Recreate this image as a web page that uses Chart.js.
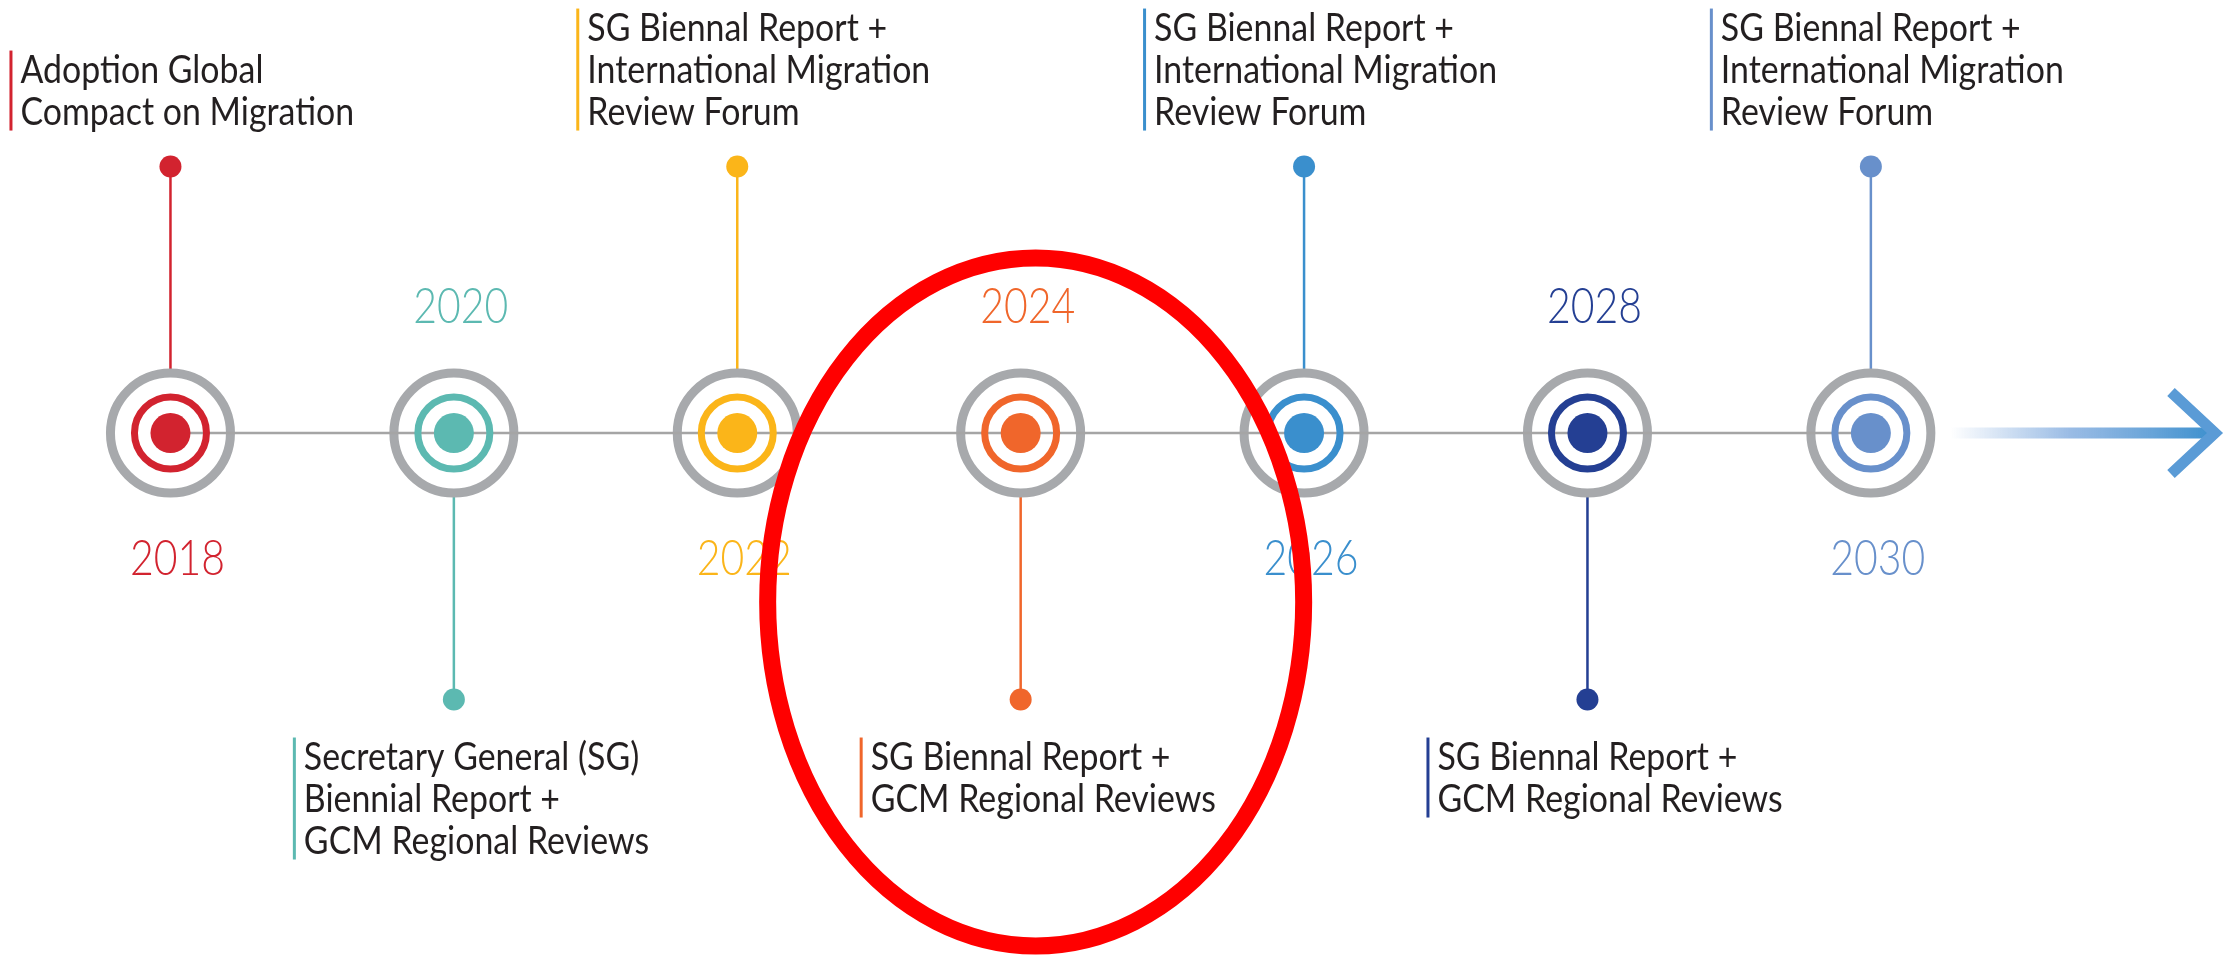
<!DOCTYPE html>
<html>
<head>
<meta charset="utf-8">
<script src="https://cdn.jsdelivr.net/npm/chart.js@4"></script>
<style>
  html, body { margin: 0; padding: 0; background: #fff; }
  #timeline { display: block; }
</style>
</head>
<body>
<canvas id="timeline" width="2239" height="970"></canvas>
<script>
// timeline data
const years = [2018, 2020, 2022, 2024, 2026, 2028, 2030];
const eventSide = [1, -1, 1, -1, 1, -1, 1]; // 1 = event above the line, -1 = below
const eventText = [
  ['Adoption Global', 'Compact on Migration'],
  ['Secretary General (SG)', 'Biennial Report +', 'GCM Regional Reviews'],
  ['SG Biennal Report +', 'International Migration', 'Review Forum'],
  ['SG Biennal Report +', 'GCM Regional Reviews'],
  ['SG Biennal Report +', 'International Migration', 'Review Forum'],
  ['SG Biennal Report +', 'GCM Regional Reviews'],
  ['SG Biennal Report +', 'International Migration', 'Review Forum']
];
const yearColors = ['#d2232f', '#5cb9b1', '#fbb519', '#f0662b', '#3a8fcd', '#243f93', '#6890cb'];
const highlightYear = 2024;

const RING_GREY = '#a7a9ac';
const LINE_GREY = '#a5a5a5';
const TEXT_DARK = '#231f20';

// year labels, event text blocks, arrow and the red highlight ellipse
const timelineDecor = {
  id: 'timelineDecor',
  beforeDatasetsDraw(chart) {
    const { ctx, chartArea, scales: { x, y } } = chart;
    const y0 = y.getPixelForValue(0);
    const start = x.getPixelForValue(years[years.length - 1]) + 80;
    const tip = chartArea.right - 24;
    ctx.save();
    const grad = ctx.createLinearGradient(start, 0, tip, 0);
    grad.addColorStop(0, 'rgba(120,165,220,0)');
    grad.addColorStop(0.45, 'rgba(120,165,220,0.75)');
    grad.addColorStop(1, '#3a8fcd');
    ctx.strokeStyle = grad;
    ctx.lineWidth = 11;
    ctx.beginPath();
    ctx.moveTo(start, y0);
    ctx.lineTo(tip - 4, y0);
    ctx.stroke();
    ctx.strokeStyle = '#5a9bd6';
    ctx.lineJoin = 'miter';
    ctx.beginPath();
    ctx.moveTo(tip - 44, y0 - 41);
    ctx.lineTo(tip, y0);
    ctx.lineTo(tip - 44, y0 + 41);
    ctx.stroke();
    ctx.restore();
  },
  afterDatasetsDraw(chart) {
    const { ctx, scales: { x, y } } = chart;
    const y0 = y.getPixelForValue(0);
    ctx.save();
    ctx.textAlign = 'left';
    ctx.textBaseline = 'alphabetic';

    // years sit on the side opposite the event
    ctx.font = '300 50px Lato';
    const yearSx = 95 / ctx.measureText('2020').width;
    years.forEach((yr, i) => {
      const px = x.getPixelForValue(yr) + 7;
      const py = eventSide[i] > 0 ? y0 + 142 : y0 - 110;
      ctx.save();
      ctx.translate(px, py);
      ctx.scale(yearSx, 1);
      ctx.fillStyle = yearColors[i];
      ctx.textAlign = 'center';
      ctx.fillText(String(yr), 0, 0);
      ctx.restore();
    });

    // event descriptions with a coloured bar on the left
    ctx.font = '38px Lato';
    const textSx = 343 / ctx.measureText('International Migration').width;
    const lineH = 42;
    years.forEach((yr, i) => {
      const lines = eventText[i];
      const left = x.getPixelForValue(yr) - 161;
      const dotY = y.getPixelForValue(eventSide[i]);
      const first = eventSide[i] > 0 ? dotY - 42 - (lines.length - 1) * lineH : dotY + 70;
      const last = first + (lines.length - 1) * lineH;
      ctx.fillStyle = yearColors[i];
      ctx.fillRect(left, first - 32, 3, last - first + 38);
      ctx.fillStyle = TEXT_DARK;
      lines.forEach((t, j) => {
        ctx.save();
        ctx.translate(left + 11, first + j * lineH);
        ctx.scale(textSx, 1);
        ctx.fillText(t, 0, 0);
        ctx.restore();
      });
    });

    // hand-drawn style highlight
    ctx.strokeStyle = '#ff0000';
    ctx.lineWidth = 17;
    ctx.beginPath();
    ctx.ellipse(x.getPixelForValue(highlightYear) + 15, y0 + 169, 268, 344, 0, 0, Math.PI * 2);
    ctx.stroke();
    ctx.restore();
  }
};

const onLine = years.map(yr => ({ x: yr, y: 0 }));

const stemSets = years.map((yr, i) => ({
  type: 'line',
  data: [{ x: yr, y: 0 }, { x: yr, y: eventSide[i] }],
  borderColor: yearColors[i],
  borderWidth: 2.5,
  pointRadius: [0, 11],
  pointBackgroundColor: yearColors[i],
  pointBorderWidth: 0,
  order: 4
}));

new Chart(document.getElementById('timeline'), {
  type: 'scatter',
  data: {
    datasets: [
      {
        data: onLine,
        pointRadius: 20,
        pointBackgroundColor: yearColors,
        pointBorderWidth: 0,
        order: 0
      },
      {
        data: onLine,
        pointRadius: 36,
        pointBorderWidth: 7,
        pointBorderColor: yearColors,
        pointBackgroundColor: 'rgba(0,0,0,0)',
        order: 1
      },
      {
        type: 'line',
        data: onLine,
        borderColor: LINE_GREY,
        borderWidth: 2.5,
        pointRadius: 0,
        order: 2
      },
      {
        data: onLine,
        pointRadius: 60,
        pointBorderWidth: 9,
        pointBorderColor: RING_GREY,
        pointBackgroundColor: '#ffffff',
        order: 3
      },
      ...stemSets
    ]
  },
  options: {
    responsive: false,
    animation: false,
    events: [],
    layout: { padding: 0, autoPadding: false },
    plugins: {
      legend: { display: false },
      tooltip: { enabled: false }
    },
    scales: {
      x: { type: 'linear', min: 2016.797, max: 2032.598, display: false },
      y: { min: -2.015, max: 1.625, display: false }
    }
  },
  plugins: [timelineDecor]
});
</script>
</body>
</html>
